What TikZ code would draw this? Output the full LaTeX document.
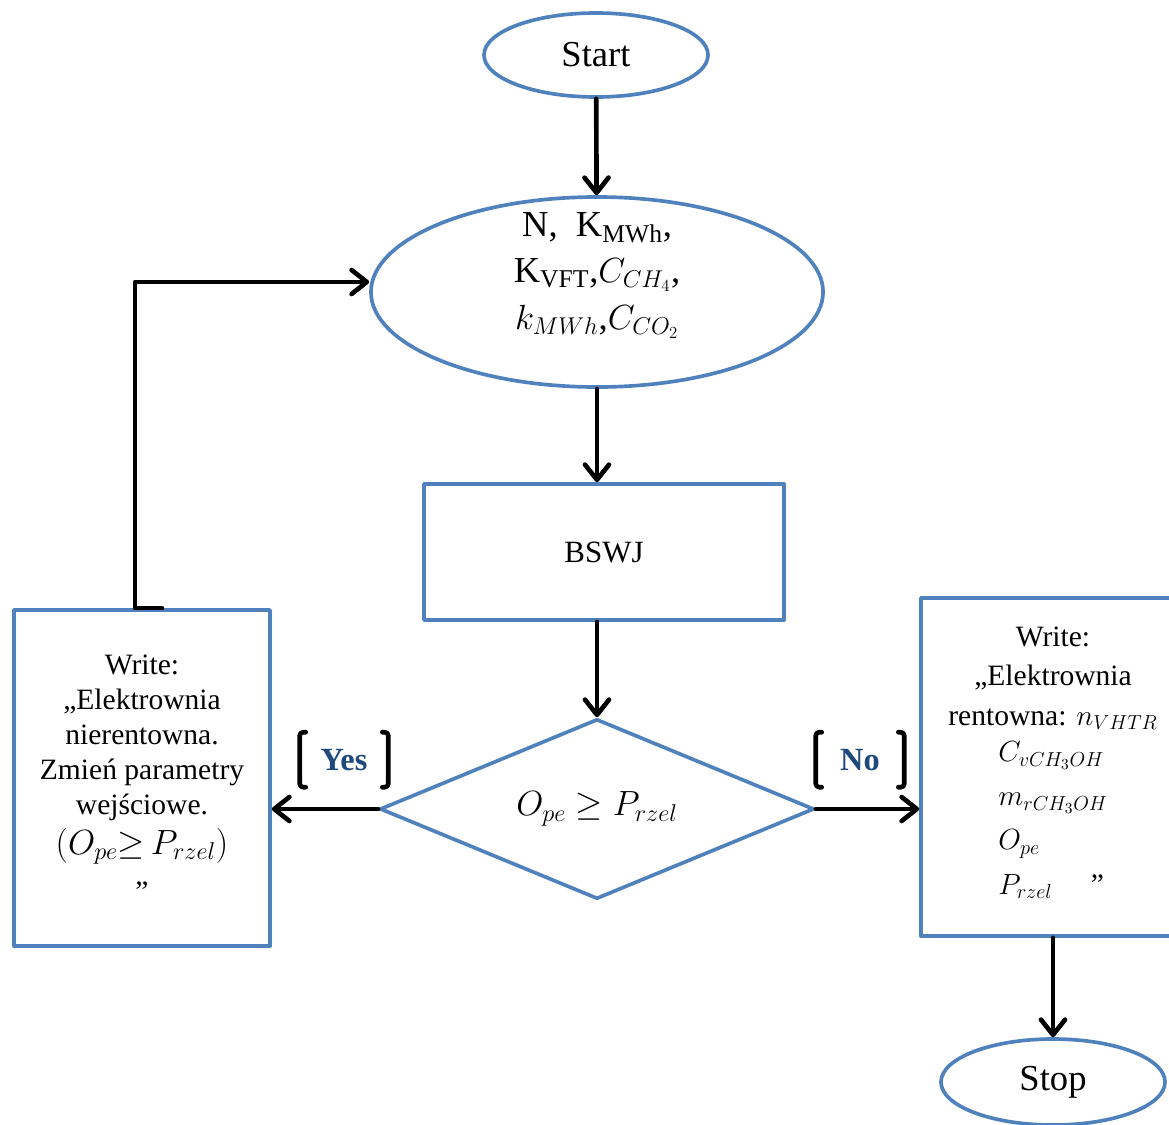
\documentclass[tikz,border=0pt]{standalone}
\usepackage{fontspec}
\setmainfont{Liberation Serif}
\usetikzlibrary{shapes.geometric,arrows.meta}
\definecolor{boxblue}{HTML}{4F81BD}
\definecolor{lblblue}{HTML}{1F497D}
\tikzset{
  blk/.style={draw=boxblue,line width=2.6pt,align=center,inner sep=0pt},
  oval/.style={blk,ellipse},
  arr/.style={line width=3.3pt,-{Straight Barb[length=3.8mm,width=6mm,line cap=round,line join=round]}},
  brk/.style={line width=3.3pt,rounded corners=2.5pt},
  lbl/.style={text=lblblue,inner sep=0pt,font=\fontsize{23}{26}\selectfont\bfseries}
}
\newcommand{\bigmath}[1]{{\fontsize{25}{28}\selectfont$#1$}}
\begin{document}
\begin{tikzpicture}[x=0.025cm,y=-0.025cm, line join=round, line cap=round]
    \useasboundingbox (0,0) rectangle (1169,1124);
    % terminals and steps
    \node[oval,minimum width=5.6cm,minimum height=2.1cm,font=\fontsize{26}{31}\selectfont] (start) at (596,55) {Start};
    \node[oval,minimum width=11.3cm,minimum height=4.75cm] (input) at (597,292) {};
    \node[align=center,inner sep=0pt,font=\fontsize{26}{33}\selectfont] (inputtxt) at ([yshift=0.42cm]input.center)
        {N,~ K\textsubscript{MWh},\\ K\textsubscript{VFT},$C_{CH_4}$,\\ $k_{MWh}$,$C_{CO_2}$};
    \node[blk,rectangle,minimum width=9cm,minimum height=3.4cm,font=\fontsize{22}{26}\selectfont] (bswj) at (604,552) {BSWJ};
    \node[blk,diamond,aspect=2.4,minimum width=10.85cm,minimum height=4.5cm,font=\fontsize{22}{26}\selectfont] (dec) at (597,809) {\bigmath{O_{pe}\geq P_{rzel}}};
    \node[blk,rectangle,minimum width=6.4cm,minimum height=8.4cm,font=\fontsize{21}{25}\selectfont] (left) at (142,778)
        {Write:\\ „Elektrownia\\ nierentowna.\\ Zmień parametry\\ wejściowe.\\[3pt] \bigmath{(O_{pe}{\geq}\,P_{rzel})}\\[0.3cm] ”};
    \node[blk,rectangle,minimum width=6.6cm,minimum height=8.45cm,font=\fontsize{21}{28}\selectfont] (right) at (1053,767)
        {Write:\\ „Elektrownia\\ rentowna: $n_{VHTR}$\\ \renewcommand{\arraystretch}{1.12}%
         \begin{tabular}{@{}l@{}}$C_{vCH_3OH}$\\ $m_{rCH_3OH}$\\ $O_{pe}$\\ $P_{rzel}$\hspace{1.3em}”\end{tabular}};
    \node[oval,minimum width=5.6cm,minimum height=2.15cm,font=\fontsize{26}{31}\selectfont] (stop) at (1053,1082) {Stop};
    % branch labels
    \node[lbl,minimum width=2.2cm,minimum height=1.375cm] (yes) at (344,760) {Yes};
    \node[lbl,minimum width=2.2cm,minimum height=1.375cm] (no) at (860,760) {No};
    \foreach \l in {yes,no} {
        \draw[brk] (\l.north west) ++(6,0) -- ++(-6,0) -- ++(0,55) -- ++(6,0);
        \draw[brk] (\l.north east) ++(-6,0) -- ++(6,0) -- ++(0,55) -- ++(-6,0);
    }
    % connectors
    \draw[arr] (start) -- (input);
    \draw[arr] (input) -- (input |- bswj.north);
    \draw[arr] (bswj.south -| dec) -- (dec);
    \draw[arr] (dec.west) -- (dec.west -| left.east);
    \draw[arr] (dec.east) -- (dec.east -| right.west);
    \draw[arr] (right) -- (stop);
    \draw[arr] ([xshift=0.5cm]left.north) -- ([xshift=-0.175cm]left.north) |- ([yshift=0.25cm]input.west);
\end{tikzpicture}
\end{document}
